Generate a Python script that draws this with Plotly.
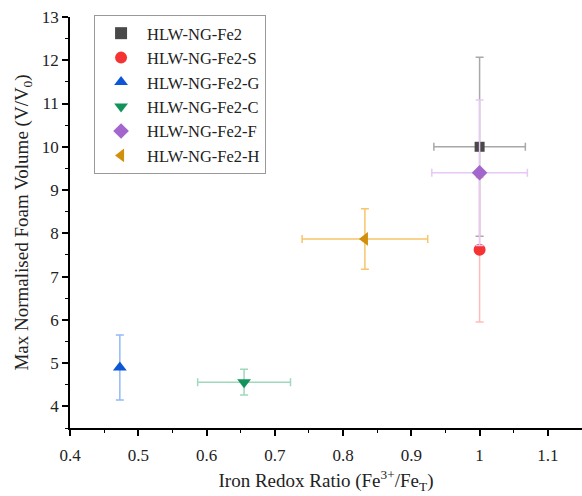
import plotly.graph_objects as go

names = ["HLW-NG-Fe2", "HLW-NG-Fe2-S", "HLW-NG-Fe2-G", "HLW-NG-Fe2-C", "HLW-NG-Fe2-F", "HLW-NG-Fe2-H"]
redox = [1.0, 1.0, 0.473, 0.655, 1.0, 0.832]
redox_err = [0.067, 0.0, 0.0, 0.068, 0.07, 0.092]
foam = [10.0, 7.62, 4.9, 4.56, 9.4, 7.87]
foam_err = [2.07, 1.67, 0.75, 0.3, 1.68, 0.7]

symbols = ["square", "circle", "triangle-up", "triangle-down", "diamond", "triangle-left"]
marker_colors = ["#494949", "#f53333", "#0d57d6", "#12935a", "#a266cc", "#d18f0b"]
bar_colors = ["#a8a8a8", "#ffbcbc", "#93bbf5", "#9fd8bd", "#e8c8f5", "#f7c56a"]
sizes = [10, 12, 12, 12, 12, 12]

fig = go.Figure()
for i in range(len(names)):
    fig.add_trace(go.Scatter(
        x=[redox[i]], y=[foam[i]], name=names[i], mode="markers",
        marker=dict(symbol=symbols[i], color=marker_colors[i], size=sizes[i]),
        error_x=dict(type="data", array=[redox_err[i]], visible=redox_err[i] > 0,
                     color=bar_colors[i], thickness=1.5, width=4),
        error_y=dict(type="data", array=[foam_err[i]], visible=True,
                     color=bar_colors[i], thickness=1.5, width=4),
    ))

font_family = "Liberation Serif"
fig.update_layout(
    width=582, height=496,
    margin=dict(l=70, r=0, t=17, b=68),
    paper_bgcolor="white", plot_bgcolor="white",
    font=dict(family=font_family, size=16, color="#222"),
    showlegend=True,
    legend=dict(x=0.047, y=1.005, xanchor="left", yanchor="top",
                bordercolor="#999", borderwidth=1, bgcolor="white",
                font=dict(family=font_family, size=16.5, color="#222"),
                tracegroupgap=0, itemsizing="constant", itemwidth=42),
    xaxis=dict(range=[0.4, 1.15], tickvals=[0.4, 0.5, 0.6, 0.7, 0.8, 0.9, 1.0, 1.1],
               ticktext=["0.4", "0.5", "0.6", "0.7", "0.8", "0.9", "1", "1.1"],
               automargin=False,
               showgrid=False, zeroline=False, showline=True, linecolor="black", linewidth=1.5,
               ticks="outside", ticklen=6, tickwidth=1.5, tickcolor="black",
               ticklabelstandoff=5,
               tickfont=dict(size=17, family=font_family),
               minor=dict(dtick=0.05, ticks="outside", ticklen=3, tickwidth=1.2, tickcolor="black"),
               title=dict(text="Iron Redox Ratio (Fe<sup>3+</sup>/Fe<sub>T</sub>)",
                          font=dict(size=19, family=font_family), standoff=10)),
    yaxis=dict(range=[3.5, 13], tickvals=[4, 5, 6, 7, 8, 9, 10, 11, 12, 13],
               automargin=False,
               showgrid=False, zeroline=False, showline=True, linecolor="black", linewidth=1.5,
               ticks="outside", ticklen=6, tickwidth=1.5, tickcolor="black",
               tickfont=dict(size=17, family=font_family),
               minor=dict(dtick=0.5, ticks="outside", ticklen=3, tickwidth=1.2, tickcolor="black"),
               title=dict(text="Max Normalised Foam Volume (V/V<sub>0</sub>)",
                          font=dict(size=19, family=font_family), standoff=8)),
)

fig.write_html("out.html", config={"displayModeBar": False},
               post_script="document.body.style.margin='0px';")
